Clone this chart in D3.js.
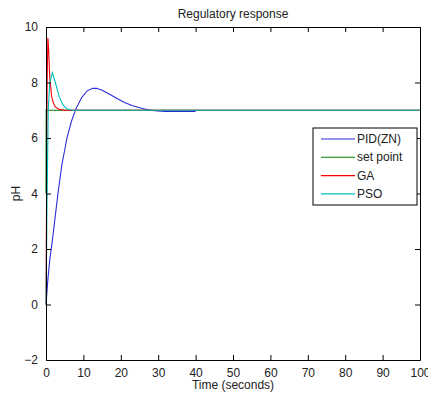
<!DOCTYPE html>
<html lang="en">
  <head>
    <meta charset="utf-8">
    <title>Regulatory response</title>
    <script src="https://cdn.jsdelivr.net/npm/d3@7"></script>
    <style type="text/css">
      body { margin: 0; background: #fff; }
      .tick text { font-family: "Liberation Sans", Arial, sans-serif; font-size: 12px; fill: #222; }
      .lbl { font-family: "Liberation Sans", Arial, sans-serif; font-size: 12px; fill: #222; }
      .line { fill: none; stroke-width: 1.1; }
    </style>
  </head>
  <body>
    <svg id="chart" width="428" height="395"></svg>
    <script type="text/javascript">
      // series: [time, pH]
      var pidTime = [0, 0.5, 1, 1.6, 2.4, 3.2, 4.2, 5.6, 6.8, 8, 9.5, 11, 12.5, 13.5, 15, 17, 19, 21, 23, 25, 27, 29, 32, 36, 40];
      var pidPh   = [0, 0.9, 1.6, 2.2, 3.1, 4.0, 5.0, 6.0, 6.6, 7.05, 7.45, 7.7, 7.79, 7.79, 7.72, 7.58, 7.42, 7.28, 7.17, 7.09, 7.03, 6.98, 6.96, 6.96, 6.96];

      var spTime = [0, 0.05, 100];
      var spPh   = [4, 7, 7];

      var gaTime = [0, 0.15, 0.3, 0.5, 0.7, 1.0, 1.5, 2.0, 2.5, 3.5, 5, 100];
      var gaPh   = [0, 4, 8, 9.6, 9.2, 8.2, 7.5, 7.25, 7.12, 7.03, 7.0, 7.0];

      var psoTime = [0, 0.3, 0.6, 1.0, 1.7, 2.5, 3.5, 4.5, 5.5, 7, 100];
      var psoPh   = [0, 4, 7, 8.0, 8.35, 8.0, 7.5, 7.2, 7.05, 7.0, 7.0];

      var xTicks = [0, 10, 20, 30, 40, 50, 60, 70, 80, 90, 100];
      var yTicks = [-2, 0, 2, 4, 6, 8, 10];

      var seriesNames = ["PID(ZN)", "set point", "GA", "PSO"];
      var seriesColors = ["#2a2ad8", "#008000", "#ff0000", "#00bfbf"];
      var seriesData = [[pidTime, pidPh], [spTime, spPh], [gaTime, gaPh], [psoTime, psoPh]];

      var svg = d3.select("#chart"),
        margin = {top: 27, right: 8, bottom: 35, left: 46},
        width = +svg.attr("width") - margin.left - margin.right,
        height = +svg.attr("height") - margin.top - margin.bottom;

      var x = d3.scaleLinear().domain([0, 100]).range([0, width]);
      var y = d3.scaleLinear().domain([-2, 10]).range([height, 0]);

      var g = svg.append("g")
        .attr("transform", "translate(" + margin.left + "," + margin.top + ")");

      // lines, drawn in legend order so PSO ends up on top
      var valueline = d3.line()
        .x(function(d) { return x(d[0]); })
        .y(function(d) { return y(d[1]); });

      seriesData.forEach(function(s, i) {
        var pts = s[0].map(function(t, k) { return [t, s[1][k]]; });
        g.append("path")
          .datum(pts)
          .attr("class", "line")
          .attr("stroke", seriesColors[i])
          .attr("d", valueline);
      });

      // axes, MATLAB style: ticks inside, box all round
      var tickLen = 5;
      g.append("g")
        .attr("transform", "translate(0," + height + ")")
        .call(d3.axisBottom(x).tickValues(xTicks).tickSizeInner(-tickLen).tickSizeOuter(0).tickPadding(8));
      g.append("g")
        .call(d3.axisTop(x).tickValues(xTicks).tickSizeInner(-tickLen).tickSizeOuter(0).tickFormat(""));
      g.append("g")
        .call(d3.axisLeft(y).tickValues(yTicks).tickSizeInner(-tickLen).tickSizeOuter(0).tickPadding(8));
      g.append("g")
        .attr("transform", "translate(" + width + ",0)")
        .call(d3.axisRight(y).tickValues(yTicks).tickSizeInner(-tickLen).tickSizeOuter(0).tickFormat(""));
      g.selectAll(".domain").attr("stroke", "#000");
      g.selectAll(".tick line").attr("stroke", "#000");

      // titles
      svg.append("text")
        .attr("class", "lbl")
        .attr("x", margin.left + width / 2)
        .attr("y", 18)
        .style("text-anchor", "middle")
        .text("Regulatory response");

      svg.append("text")
        .attr("class", "lbl")
        .attr("x", margin.left + width / 2)
        .attr("y", 389)
        .style("text-anchor", "middle")
        .text("Time (seconds)");

      svg.append("text")
        .attr("class", "lbl")
        .attr("transform", "translate(20," + (margin.top + height / 2) + ") rotate(-90)")
        .style("text-anchor", "middle")
        .text("pH");

      // legend
      var legend = svg.append("g").attr("transform", "translate(313,128)");
      legend.append("rect")
        .attr("width", 104)
        .attr("height", 77)
        .attr("fill", "#fff")
        .attr("stroke", "#000");
      seriesNames.forEach(function(name, i) {
        var ly = 11 + i * 18.3;
        legend.append("line")
          .attr("x1", 8).attr("x2", 42)
          .attr("y1", ly).attr("y2", ly)
          .attr("stroke", seriesColors[i])
          .attr("stroke-width", 1.1);
        legend.append("text")
          .attr("class", "lbl")
          .attr("x", 44)
          .attr("y", ly + 4)
          .text(name);
      });
    </script>
  </body>
</html>
